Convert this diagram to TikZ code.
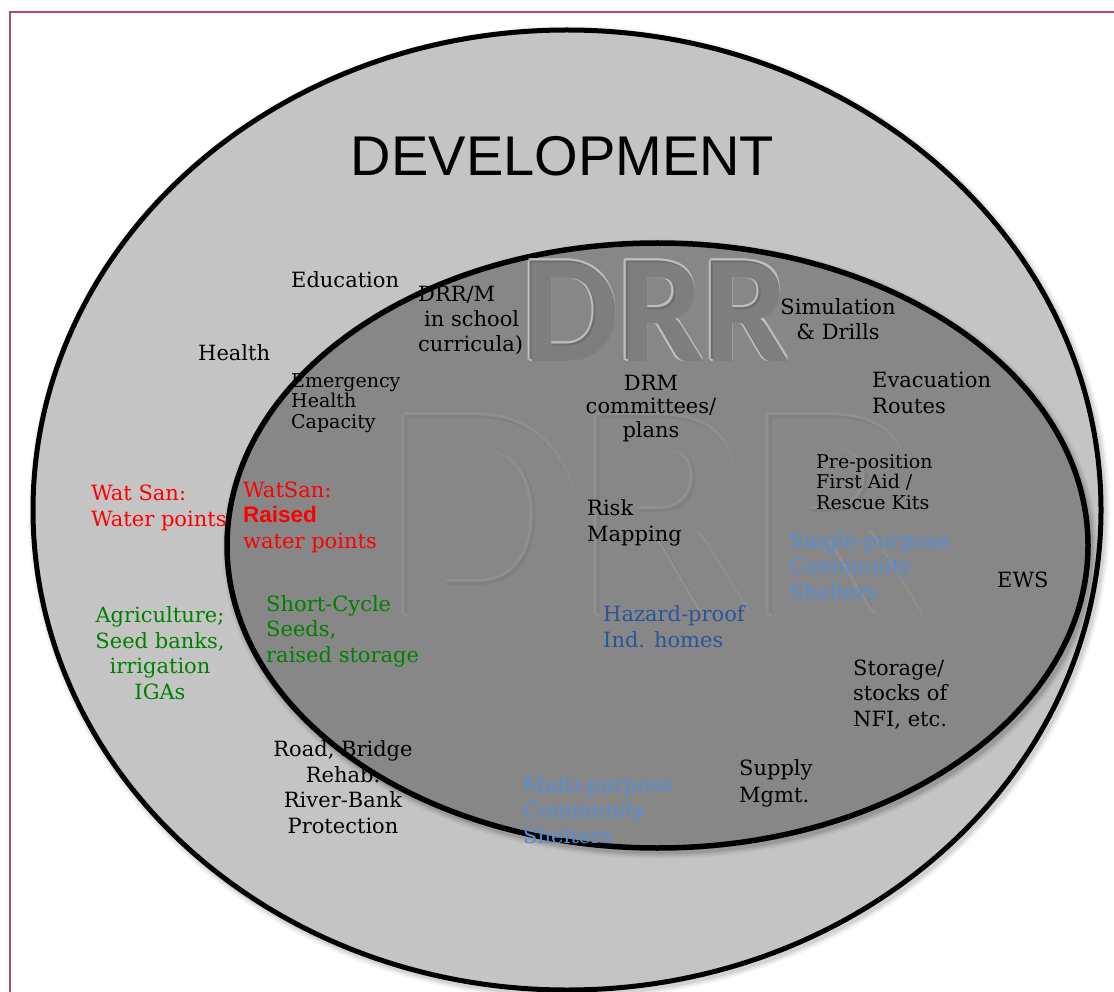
\documentclass[tikz,border=0pt]{standalone}
\usepackage{fontspec}
\setmainfont{DejaVu Serif}
\newfontfamily\headfont{Liberation Sans}
\newfontfamily\drrfont{Carlito}

\definecolor{outerfill}{HTML}{C4C4C4}
\definecolor{innerfill}{HTML}{878787}
\definecolor{framepink}{RGB}{176,72,128}
\definecolor{txtred}{HTML}{FF0000}
\definecolor{txtgreen}{RGB}{0,128,0}
\definecolor{lightblue}{HTML}{558ED5}
\definecolor{darkblue}{HTML}{2A5599}
\definecolor{rimtop}{HTML}{BEBEBE}
\definecolor{bandtop}{HTML}{6E6E6E}
\definecolor{filltop}{HTML}{7E7E7E}
\definecolor{rimbig}{HTML}{8F8F8F}
\definecolor{bandbig}{HTML}{808080}
\definecolor{fillbig}{HTML}{878787}

\tikzset{
  lbl/.style={inner sep=0pt, font=\fontsize{21}{25.5}\selectfont, align=left, anchor=base west},
  lblc/.style={lbl, align=center, anchor=base},
  small/.style={font=\fontsize{19}{20.5}\selectfont},
  drrtop/.style={inner sep=0pt, font=\drrfont\bfseries\fontsize{152}{152}\selectfont},
  drrbig/.style={inner sep=0pt, font=\drrfont\bfseries\fontsize{305}{305}\selectfont},
}

\begin{document}
\begin{tikzpicture}[x=1pt, y=-1pt]
\useasboundingbox (0,0) rectangle (1114,992);
\fill[white] (0,0) rectangle (1114,992);
\begin{scope}
\clip (0,0) rectangle (1114,992);

% page frame
\draw[framepink, line width=1.2pt] (10,992) -- (10,12) -- (1114,12);

% soft shadow of the outer ellipse
\foreach \w/\o in {14/0.04, 10/0.06, 6/0.08}
  \draw[line width=\w pt, black, opacity=\o] (569.5,513) ellipse [x radius=534pt, y radius=480pt];
% outer ellipse: development
\draw[fill=outerfill, line width=5pt] (567,510) ellipse [x radius=534pt, y radius=480pt];

% soft shadow of the inner ellipse
\foreach \w/\o in {14/0.05, 10/0.07, 6/0.1}
  \draw[line width=\w pt, black, opacity=\o] (660,549) ellipse [x radius=430.5pt, y radius=302.5pt];
% inner ellipse: DRR
\draw[fill=innerfill, line width=5.5pt] (657.5,545.5) ellipse [x radius=430.5pt, y radius=302.5pt];

% large faint DRR watermark
\foreach \dx/\dy in {-3/0,3/0,0/-3,0/3,-2.1/-2.1,2.1/-2.1,-2.1/2.1,2.1/2.1}
  \node[drrbig, text=rimbig] at (655+\dx,515+\dy) {DRR};
\node[drrbig, text=bandbig] (drrmark) at (655,515) {DRR};
\node[drrbig, text=fillbig] at (658,518) {DRR};

% embossed DRR title
\foreach \dx/\dy in {-2/0,2/0,0/-2,0/2,-1.4/-1.4,1.4/-1.4,-1.4/1.4,1.4/1.4}
  \node[drrtop, text=rimtop] at (655+\dx,310+\dy) {DRR};
\node[drrtop, text=bandtop] (drrtitle) at (655,310) {DRR};
\node[drrtop, text=filltop] at (656.8,311.8) {DRR};

% heading
\node[inner sep=0pt, font=\headfont\fontsize{56}{56}\selectfont] (dev) at (562.5,156) {DEVELOPMENT};

% development-only items (multi-line nodes sit on their last baseline)
\node[lbl] (edu) at (291,288) {Education};
\node[lbl] (health) at (198,360) {Health};
\node[lbl, text=txtred] (watsan) at (91,526) {Wat San:\\Water points};
\node[lblc, text=txtgreen] (agri) at (160,699) {Agriculture;\\Seed banks,\\irrigation\\IGAs};
\node[lblc] (road) at (343,833) {Road, Bridge\\Rehab.\\River-Bank\\Protection};
\node[lbl] (ews) at (997,587) {EWS};

% DRR items
\node[lbl] (school) at (418,352) {DRR/M\\\hspace*{6pt}in school\\curricula)};
\node[lbl, small] (emerg) at (291,428) {Emergency\\Health\\Capacity};
\node[lblc, font=\fontsize{21}{25}\selectfont] (sim) at (838,340) {Simulation\\\& Drills};
\node[lblc, font=\fontsize{21}{23.5}\selectfont] (drm) at (651,437) {DRM\\committees/\\plans};
\node[lbl, font=\fontsize{21}{26}\selectfont] (evac) at (872,413) {Evacuation\\Routes};
\node[lbl, small] (prepos) at (816,509) {Pre-position\\First Aid /\\Rescue Kits};
\node[lbl, font=\fontsize{21}{26}\selectfont] (risk) at (587,541) {Risk\\Mapping};
\node[lbl, text=lightblue] (single) at (789,599) {Single-purpose\\Community\\Shelters};
\node[lbl, text=txtred] (watsanr) at (243,548) {WatSan:\\{\headfont\bfseries\fontsize{22.5}{25.5}\selectfont Raised}\\water points};
\node[lbl, text=txtgreen] (short) at (266,662) {Short-Cycle\\Seeds,\\raised storage};
\node[lbl, font=\fontsize{21}{26}\selectfont, text=darkblue] (hazard) at (603,647) {Hazard-proof\\Ind. homes};
\node[lbl] (storage) at (853,726) {Storage/\\stocks of\\NFI, etc.};
\node[lbl, font=\fontsize{21}{27}\selectfont] (supply) at (739,802) {Supply\\Mgmt.};
\node[lbl, text=lightblue] (multi) at (523,843) {Multi-purpose\\Community\\Shelters};
\end{scope}
\end{tikzpicture}
\end{document}
